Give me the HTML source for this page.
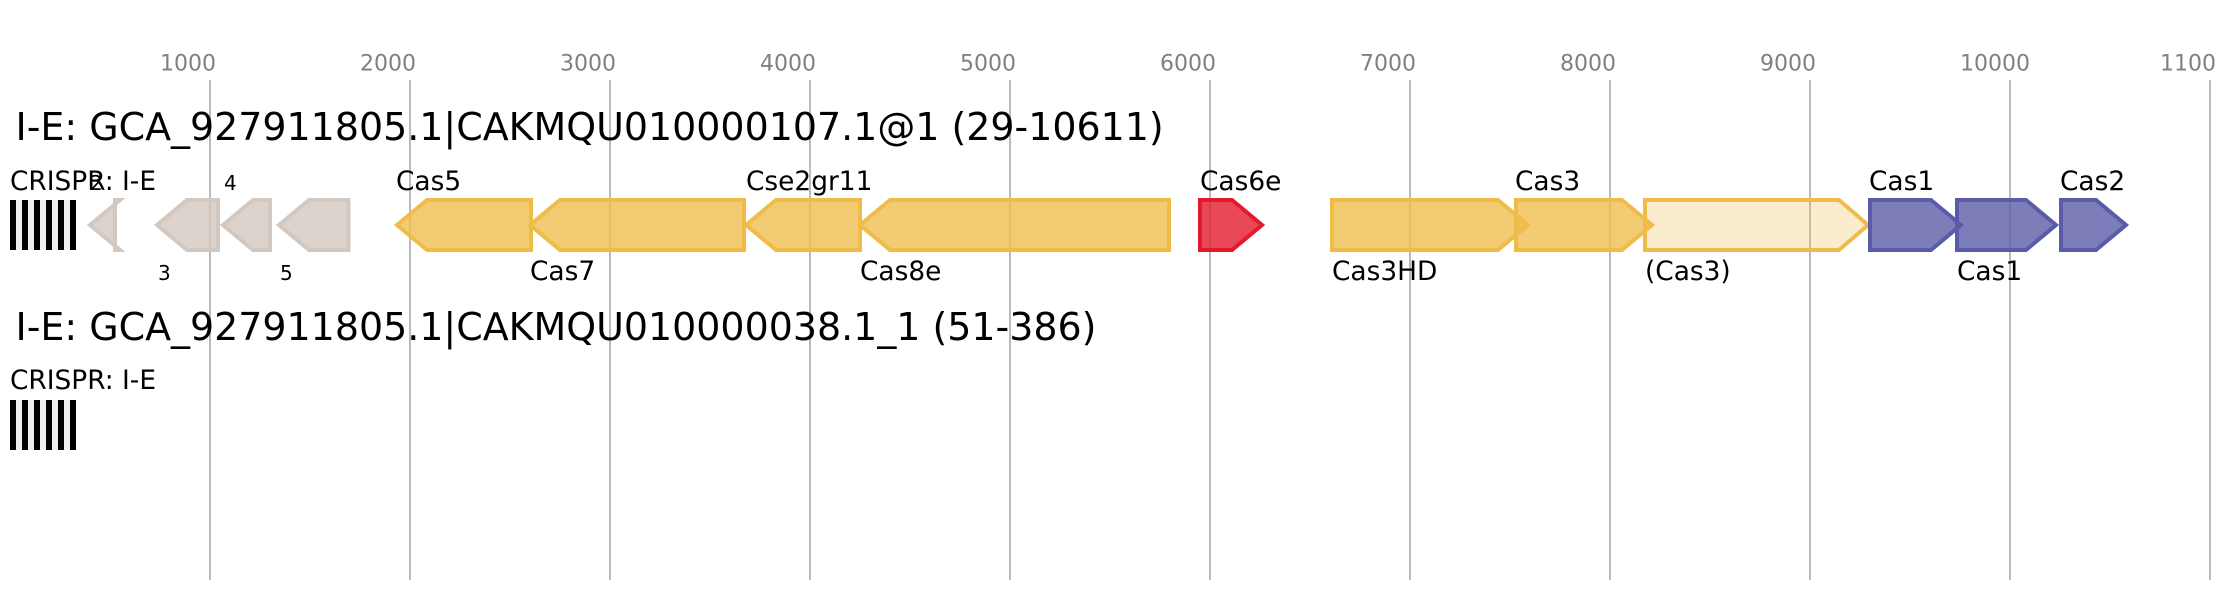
<!DOCTYPE html>
<html><head><meta charset="utf-8"><style>
html,body{margin:0;padding:0;background:#fff}
svg{display:block}
text{font-family:"DejaVu Sans",sans-serif}
.t{font-size:22px;fill:#808080}
.h{font-size:37.95px;fill:#000}
.l{font-size:26.4px;fill:#000}
.n{font-size:20px;fill:#000}
.g line{stroke:#bbb;stroke-width:2}
polygon{stroke-width:4}
.gr{fill:#d3c8c0;fill-opacity:.8;stroke:#d3c8c0}
.y{fill:#efbc4a;fill-opacity:.78;stroke:#efbc4a}
.y2{fill:#efbc4a;fill-opacity:.28;stroke:#efbc4a}
.r{fill:#e31a2c;fill-opacity:.8;stroke:#e31a2c}
.b{fill:#5b5ca8;fill-opacity:.8;stroke:#5b5ca8}
</style></head><body>
<svg xmlns="http://www.w3.org/2000/svg" width="2216" height="600" viewBox="0 0 2216 600">
<g class="g">
<line x1="210" y1="80" x2="210" y2="580"/><line x1="410" y1="80" x2="410" y2="580"/><line x1="610" y1="80" x2="610" y2="580"/><line x1="810" y1="80" x2="810" y2="580"/><line x1="1010" y1="80" x2="1010" y2="580"/><line x1="1210" y1="80" x2="1210" y2="580"/><line x1="1410" y1="80" x2="1410" y2="580"/><line x1="1610" y1="80" x2="1610" y2="580"/><line x1="1810" y1="80" x2="1810" y2="580"/><line x1="2010" y1="80" x2="2010" y2="580"/><line x1="2210" y1="80" x2="2210" y2="580"/>
</g>
<text class="t" x="160" y="70.5">1000</text><text class="t" x="360" y="70.5">2000</text><text class="t" x="560" y="70.5">3000</text><text class="t" x="760" y="70.5">4000</text><text class="t" x="960" y="70.5">5000</text><text class="t" x="1160" y="70.5">6000</text><text class="t" x="1360" y="70.5">7000</text><text class="t" x="1560" y="70.5">8000</text><text class="t" x="1760" y="70.5">9000</text><text class="t" x="1960" y="70.5">10000</text><text class="t" x="2160" y="70.5">11000</text>
<text class="h" x="15.5" y="140">I-E: GCA_927911805.1|CAKMQU010000107.1@1 (29-10611)</text>
<text class="h" x="15.5" y="340">I-E: GCA_927911805.1|CAKMQU010000038.1_1 (51-386)</text>
<text class="l" x="10" y="190">CRISPR: I-E</text>
<rect x="10" y="200" width="66" height="50" fill="#eee"/>
<rect x="10" y="200" width="6" height="50"/><rect x="22" y="200" width="6" height="50"/><rect x="34" y="200" width="6" height="50"/><rect x="46" y="200" width="6" height="50"/><rect x="58" y="200" width="6" height="50"/><rect x="70" y="200" width="6" height="50"/>
<text class="l" x="10" y="389">CRISPR: I-E</text>
<rect x="10" y="400" width="66" height="50" fill="#eee"/>
<rect x="10" y="400" width="6" height="50"/><rect x="22" y="400" width="6" height="50"/><rect x="34" y="400" width="6" height="50"/><rect x="46" y="400" width="6" height="50"/><rect x="58" y="400" width="6" height="50"/><rect x="70" y="400" width="6" height="50"/>

<polygon class="gr" points="115,200 120,200 90,225 120,250 115,250"/>
<polygon class="gr" points="218,200 187,200 157,225 187,250 218,250"/>
<polygon class="gr" points="270,200 253,200 223,225 253,250 270,250"/>
<polygon class="gr" points="348.500,200 309,200 279,225 309,250 348.500,250"/>
<text class="n" x="90" y="190">2</text><text class="n" x="158" y="280">3</text><text class="n" x="224" y="190">4</text><text class="n" x="280" y="280">5</text>

<polygon class="y" points="531,200 427,200 397,225 427,250 531,250"/>
<polygon class="y" points="744,200 560,200 530,225 560,250 744,250"/>
<polygon class="y" points="860,200 776,200 746,225 776,250 860,250"/>
<polygon class="y" points="1169,200 890,200 860,225 890,250 1169,250"/>
<polygon class="r" points="1200,200 1232,200 1262,225 1232,250 1200,250"/>
<polygon class="y" points="1332,200 1498,200 1528,225 1498,250 1332,250"/>
<polygon class="y" points="1516,200 1622,200 1652,225 1622,250 1516,250"/>
<polygon class="y2" points="1645,200 1839,200 1868,225 1839,250 1645,250"/>
<polygon class="b" points="1870,200 1931,200 1961,225 1931,250 1870,250"/>
<polygon class="b" points="1957,200 2026,200 2056,225 2026,250 1957,250"/>
<polygon class="b" points="2061,200 2096,200 2126,225 2096,250 2061,250"/>

<text class="l" x="396" y="190">Cas5</text>
<text class="l" x="530" y="280">Cas7</text>
<text class="l" x="746" y="190">Cse2gr11</text>
<text class="l" x="860" y="280">Cas8e</text>
<text class="l" x="1200" y="190">Cas6e</text>
<text class="l" x="1332" y="280">Cas3HD</text>
<text class="l" x="1515" y="190">Cas3</text>
<text class="l" x="1645" y="280">(Cas3)</text>
<text class="l" x="1869" y="190">Cas1</text>
<text class="l" x="1957" y="280">Cas1</text>
<text class="l" x="2060" y="190">Cas2</text>
</svg>
</body></html>
